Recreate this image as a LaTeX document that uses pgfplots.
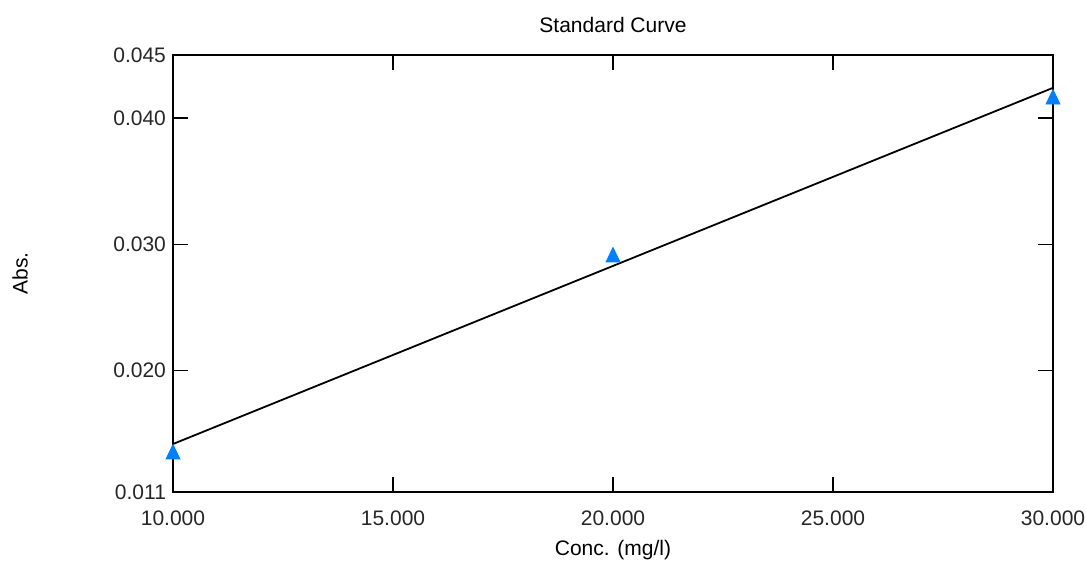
\documentclass[border=0pt]{standalone}
\usepackage{fontspec}
\setmainfont{Liberation Sans}
\usepackage{pgfplots}
\pgfplotsset{compat=1.18}
\definecolor{markblue}{RGB}{0,128,255}
\begin{document}
\begin{tikzpicture}
\useasboundingbox (-86.5pt,-38pt) rectangle (456.5pt,246pt);
\begin{axis}[
  at={(0,0)}, anchor=south west,
  scale only axis, width=440pt, height=218.5pt,
  xmin=10, xmax=30, ymin=0.0104, ymax=0.045,
  xtick={10,15,20,25,30},
  ytick={0.0104,0.020,0.030,0.040,0.045},
  yticklabels={0.011,0.020,0.030,0.040,0.045},
  scaled ticks=false,
  /pgf/number format/fixed,
  /pgf/number format/fixed zerofill,
  /pgf/number format/precision=3,
  /pgf/number format/assume math mode=true,
  tick align=inside,
  major tick length=7.5pt,
  axis line style={line width=0.7pt},
  every tick/.style={line width=0.7pt, black},
  tick label style={font=\fontsize{10.5}{12}\selectfont, text=black!85},
  xticklabel style={yshift=-6pt},
  title={Standard Curve},
  title style={at={(axis description cs:0.5,1)}, anchor=center, yshift=9pt, font=\fontsize{10.5}{12}\selectfont},
  xlabel={Conc. (mg/l)},
  xlabel style={at={(axis description cs:0.5,0)}, anchor=center, yshift=-29pt, font=\fontsize{10.5}{12}\selectfont},
  ylabel={Abs.},
  ylabel style={at={(axis description cs:0,0.5)}, anchor=center, yshift=76.5pt, font=\fontsize{10.5}{12}\selectfont},
  clip mode=individual,
]
\addplot[black, line width=0.9pt, no markers] coordinates {(10,0.0142) (30,0.0424)};
\addplot[only marks, mark=triangle*, mark size=4pt, color=markblue, mark options={fill=markblue, draw=markblue, yscale=1.2}] coordinates {
(10,0.0134) (20,0.0290) (30,0.0415)};
\end{axis}
\end{tikzpicture}
\end{document}
